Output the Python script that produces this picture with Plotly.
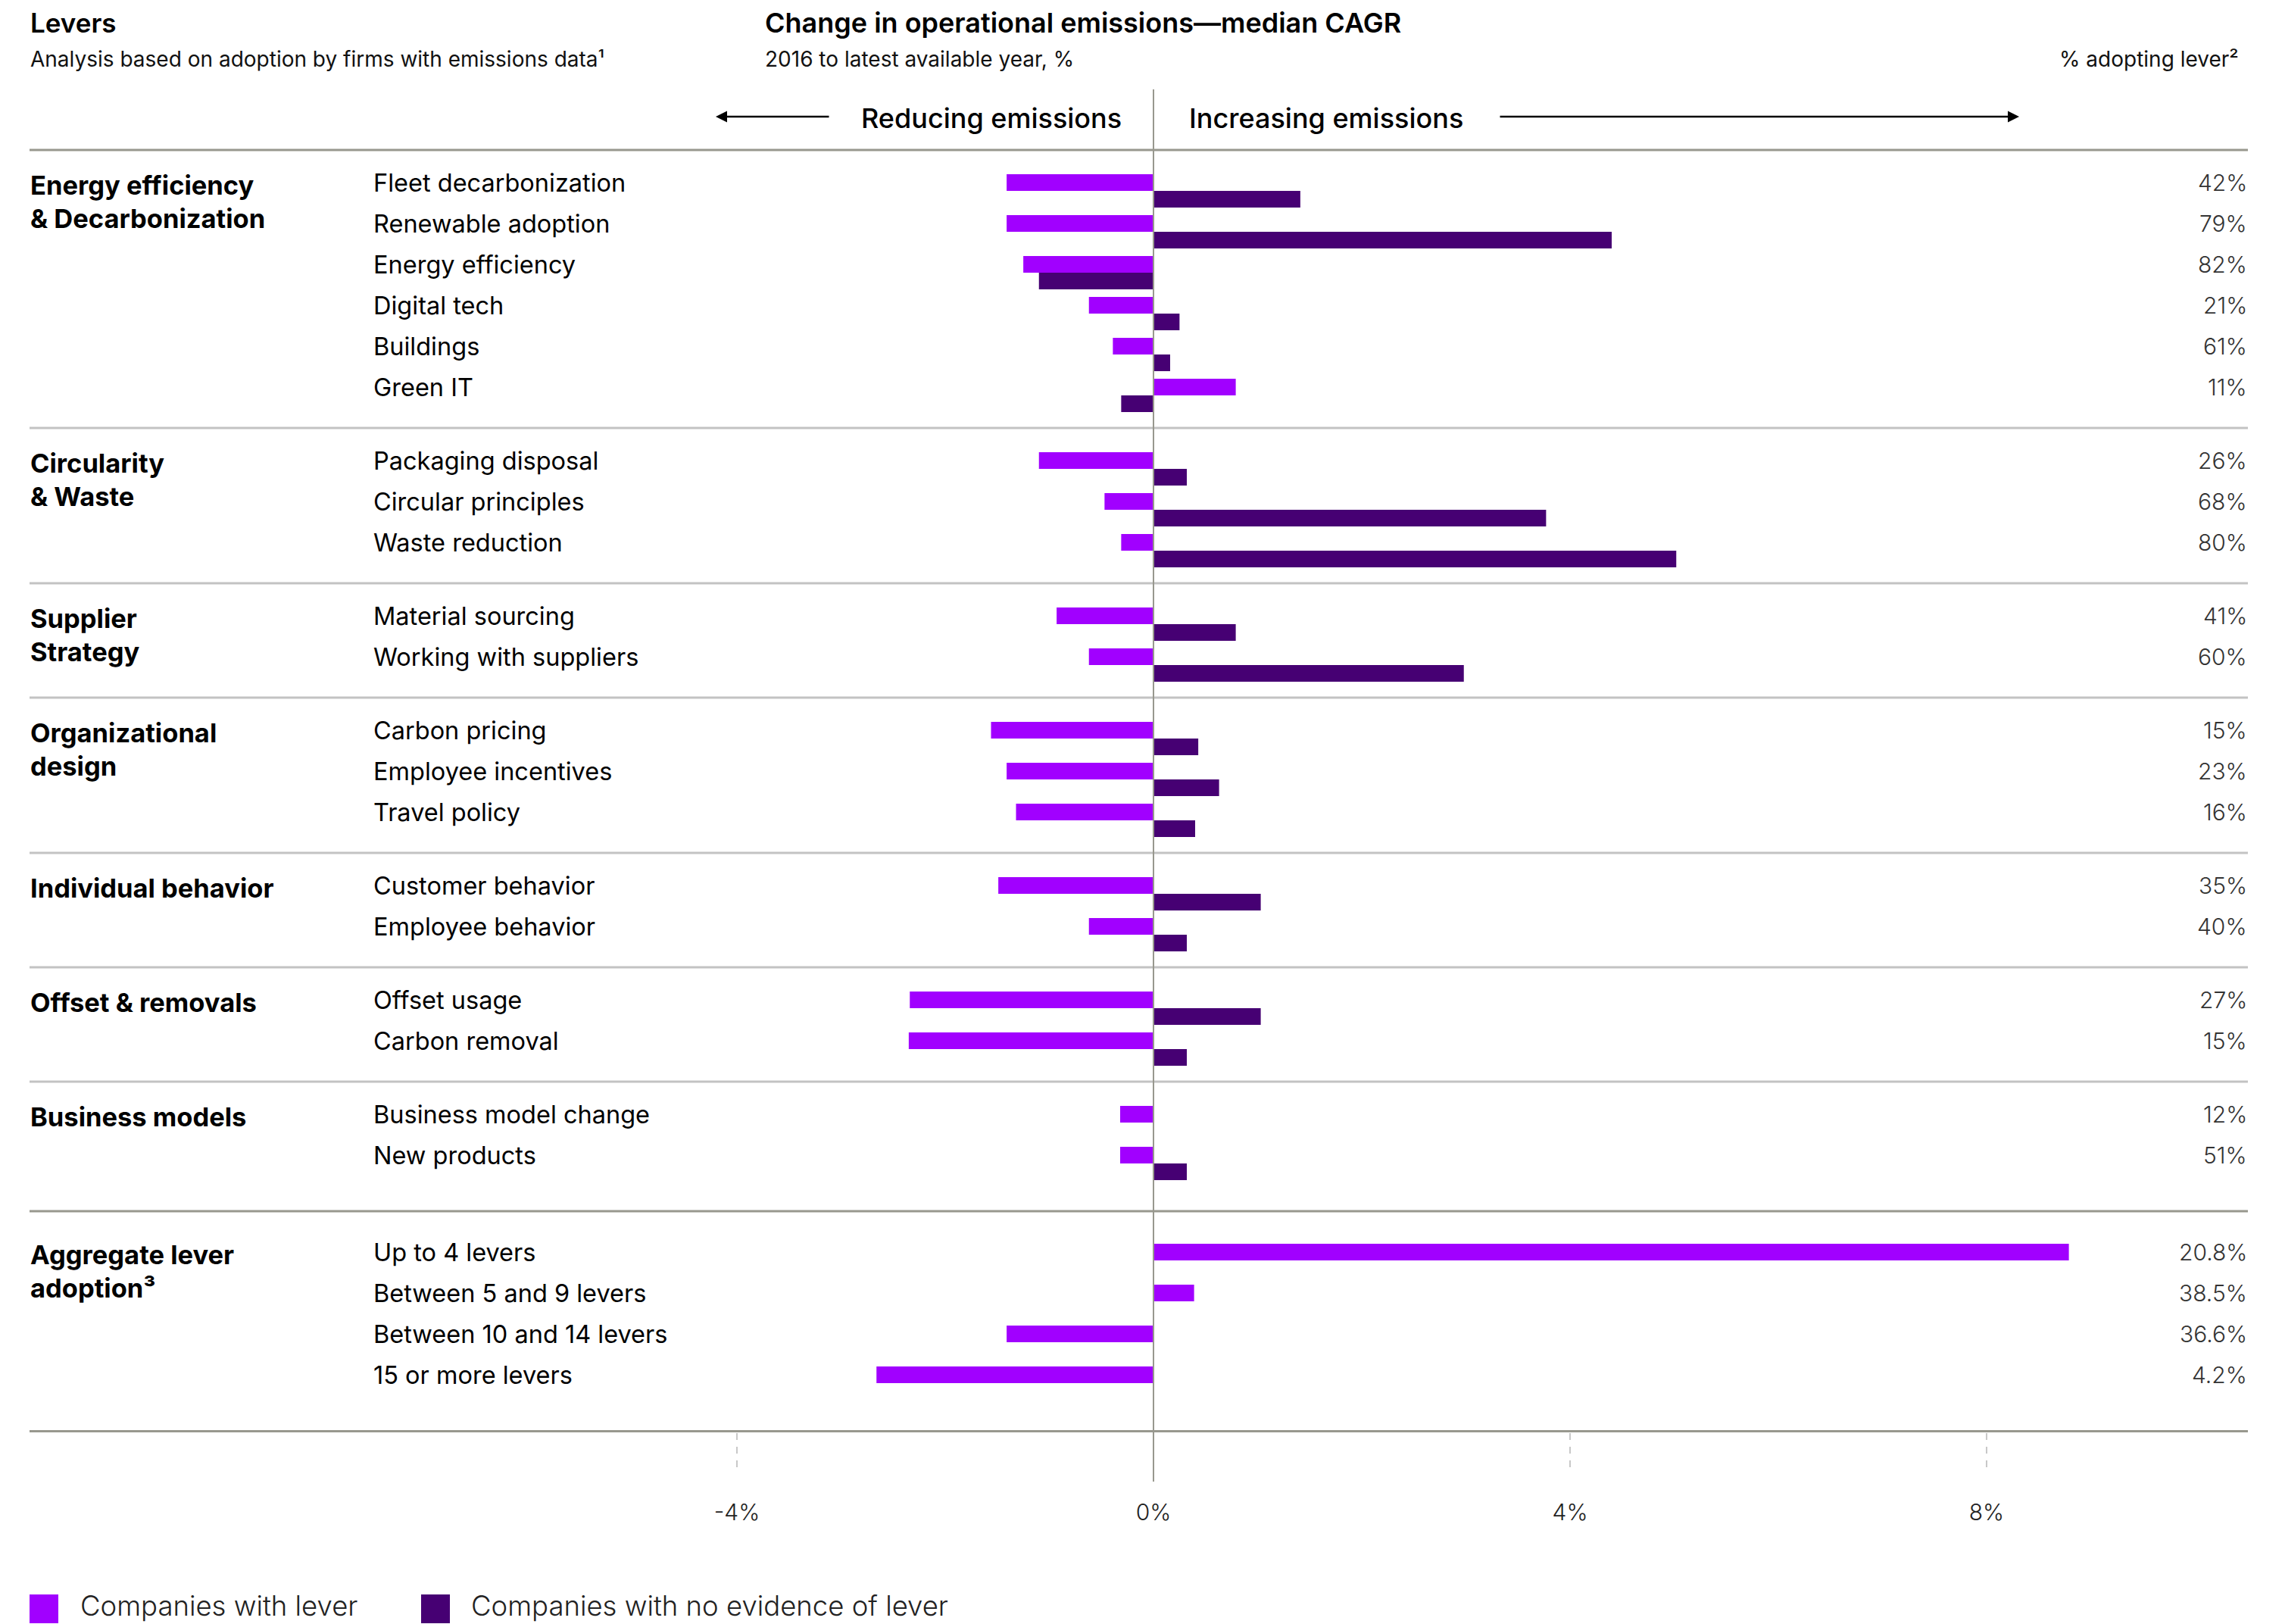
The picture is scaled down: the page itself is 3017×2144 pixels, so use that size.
import plotly.graph_objects as go

W, H = 3017, 2144

# ---------------- data ----------------
group_names = [
    ["Energy efficiency", "& Decarbonization"],
    ["Circularity", "& Waste"],
    ["Supplier", "Strategy"],
    ["Organizational", "design"],
    ["Individual behavior"],
    ["Offset & removals"],
    ["Business models"],
    ["Aggregate lever", "adoption³"],
]
levers = [
    ["Fleet decarbonization", "Renewable adoption", "Energy efficiency", "Digital tech", "Buildings", "Green IT"],
    ["Packaging disposal", "Circular principles", "Waste reduction"],
    ["Material sourcing", "Working with suppliers"],
    ["Carbon pricing", "Employee incentives", "Travel policy"],
    ["Customer behavior", "Employee behavior"],
    ["Offset usage", "Carbon removal"],
    ["Business model change", "New products"],
    ["Up to 4 levers", "Between 5 and 9 levers", "Between 10 and 14 levers", "15 or more levers"],
]
# median CAGR (%), companies with lever
with_lever = [
    [-1.41, -1.41, -1.25, -0.62, -0.39, 0.79],
    [-1.10, -0.47, -0.31],
    [-0.93, -0.62],
    [-1.56, -1.41, -1.32],
    [-1.49, -0.62],
    [-2.34, -2.35],
    [-0.32, -0.32],
    [8.79, 0.39, -1.41, -2.66],
]
# median CAGR (%), companies with no evidence of lever (None = no bar)
no_lever = [
    [1.41, 4.40, -1.10, 0.25, 0.16, -0.31],
    [0.32, 3.77, 5.02],
    [0.79, 2.98],
    [0.43, 0.63, 0.40],
    [1.03, 0.32],
    [1.03, 0.32],
    [None, 0.32],
    [None, None, None, None],
]
adopting = [
    ["42%", "79%", "82%", "21%", "61%", "11%"],
    ["26%", "68%", "80%"],
    ["41%", "60%"],
    ["15%", "23%", "16%"],
    ["35%", "40%"],
    ["27%", "15%"],
    ["12%", "51%"],
    ["20.8%", "38.5%", "36.6%", "4.2%"],
]
tick_vals = [-4, 0, 4, 8]
tick_text = ["-4%", "0%", "4%", "8%"]

PURPLE = "#A100FF"
DARK = "#460073"
RULE_DARK = "#98988e"
RULE_LIGHT = "#c3c3c3"
FONT = "Inter"

# ---------------- layout geometry (pixels) ----------------
ROW = 54
BAR_W = 22
HEADER_RULE = 198
AXIS_Y = 1889
ZERO_PX = 1523
PX_PER_PCT = 137.5
PLOT_L, PLOT_R = 39, 2968

def px(x):
    return x / W

x_range = [(PLOT_L - ZERO_PX) / PX_PER_PCT, (PLOT_R - ZERO_PX) / PX_PER_PCT]

fig = go.Figure()
annotations = []
shapes = []

# compute row centres
y = HEADER_RULE
sep_positions = []
purple_y, purple_x, dark_y, dark_x = [], [], [], []
n_groups = len(levers)
for gi in range(n_groups):
    is_agg = gi == n_groups - 1
    if gi > 0:
        sep_positions.append((y, is_agg))
    centre0 = y + ROW
    centres = [centre0 + k * ROW for k in range(len(levers[gi]))]
    label_ys = []
    for k, c in enumerate(centres):
        if is_agg:
            purple_y.append(c)
            purple_x.append(with_lever[gi][k])
            label_ys.append(c)
        else:
            purple_y.append(c - BAR_W / 2)
            purple_x.append(with_lever[gi][k])
            if no_lever[gi][k] is not None:
                dark_y.append(c + BAR_W / 2)
                dark_x.append(no_lever[gi][k])
            label_ys.append(c - BAR_W / 2)
    # labels
    for k, ly in enumerate(label_ys):
        annotations.append(dict(text=levers[gi][k], x=px(491), y=ly, xref="paper", yref="y",
                                xanchor="left", yanchor="middle", showarrow=False,
                                font=dict(family=FONT, size=32.5, color="#000000")))
        annotations.append(dict(text=adopting[gi][k], x=px(2969), y=ly, xref="paper", yref="y",
                                xanchor="right", yanchor="middle", showarrow=False,
                                font=dict(family=FONT, size=30, color="#333333", weight=300)))
    for li, line in enumerate(group_names[gi]):
        annotations.append(dict(text=line, x=px(38), y=label_ys[0] + 3 + li * 44, xref="paper", yref="y",
                                xanchor="left", yanchor="middle", showarrow=False,
                                font=dict(family=FONT, size=34.5, color="#000000", weight=700)))
    y = centres[-1] + 43
    if gi == n_groups - 2:
        y += 20

fig.add_trace(go.Bar(y=purple_y, x=purple_x, orientation="h", width=BAR_W,
                     marker=dict(color=PURPLE, line=dict(width=0)), name="Companies with lever",
                     showlegend=False))
fig.add_trace(go.Bar(y=dark_y, x=dark_x, orientation="h", width=BAR_W,
                     marker=dict(color=DARK, line=dict(width=0)),
                     name="Companies with no evidence of lever", showlegend=False))

# rules
shapes.append(dict(type="line", xref="paper", yref="y", x0=px(PLOT_L), x1=px(PLOT_R),
                   y0=HEADER_RULE, y1=HEADER_RULE, line=dict(color=RULE_DARK, width=3)))
for sy, dark in sep_positions:
    shapes.append(dict(type="line", xref="paper", yref="y", x0=px(PLOT_L), x1=px(PLOT_R),
                       y0=sy, y1=sy, line=dict(color=RULE_DARK if dark else RULE_LIGHT, width=3)))
# zero line
shapes.append(dict(type="line", xref="x", yref="y", x0=0, x1=0, y0=118, y1=1956,
                   line=dict(color=RULE_DARK, width=2), layer="above"))
# dashed tick marks
for tv in tick_vals:
    if tv != 0:
        shapes.append(dict(type="line", xref="x", yref="y", x0=tv, x1=tv, y0=1892, y1=1944,
                           line=dict(color="#c8c8c8", width=2, dash="dash")))

# header texts
def txt(t, x, yy, size, anchor="left", weight=None, color="#000000"):
    f = dict(family=FONT, size=size, color=color)
    if weight is not None:
        f["weight"] = weight
    annotations.append(dict(text=t, x=px(x), y=yy, xref="paper", yref="y", xanchor=anchor,
                            yanchor="middle", showarrow=False, font=f))

txt("Levers", 38, 30, 35, weight=600)
txt("Analysis based on adoption by firms with emissions data¹", 38, 78, 28, color="#111111")
txt("Change in operational emissions—median CAGR", 1008, 30, 36, weight=600)
txt("2016 to latest available year, %", 1008, 78, 28, color="#111111")
txt("% adopting lever²", 2958, 78, 28, anchor="right", color="#111111")
txt("Reducing emissions", 1483, 156, 36, anchor="right", weight=500)
txt("Increasing emissions", 1568, 156, 36, weight=500)

# arrows
annotations.append(dict(x=px(945), y=154, xref="paper", yref="y", ax=151, ay=0,
                        axref="pixel", ayref="pixel", text="", showarrow=True,
                        arrowhead=2, arrowsize=1.2, arrowwidth=2.5, arrowcolor="#000000"))
annotations.append(dict(x=px(2666), y=154, xref="paper", yref="y", ax=-687, ay=0,
                        axref="pixel", ayref="pixel", text="", showarrow=True,
                        arrowhead=2, arrowsize=1.2, arrowwidth=2.5, arrowcolor="#000000"))

# legend
legend_items = [("Companies with lever", PURPLE, 39, 104), ("Companies with no evidence of lever", DARK, 556, 620)]
for name, col, sx, tx in legend_items:
    shapes.append(dict(type="rect", xref="paper", yref="y", x0=px(sx), x1=px(sx + 38), y0=2105, y1=2143,
                       fillcolor=col, line=dict(width=0)))
    annotations.append(dict(text=name, x=px(tx), y=2120, xref="paper", yref="y", xanchor="left",
                            yanchor="middle", showarrow=False,
                            font=dict(family=FONT, size=36.5, color="#222222", weight=300)))

fig.update_layout(
    width=W, height=H,
    margin=dict(l=0, r=0, t=0, b=0),
    paper_bgcolor="white", plot_bgcolor="rgba(0,0,0,0)",
    barmode="overlay", showlegend=False,
    xaxis=dict(domain=[px(PLOT_L), px(PLOT_R)], range=x_range, anchor="free",
               position=(H - AXIS_Y) / H, showline=True, linecolor=RULE_DARK, linewidth=3,
               showgrid=False, zeroline=False, ticks="", tickvals=tick_vals, ticktext=tick_text,
               ticklabelstandoff=80, tickfont=dict(family=FONT, size=30, color="#222222", weight=300)),
    yaxis=dict(domain=[0, 1], range=[H, 0], visible=False, showgrid=False, zeroline=False),
    annotations=annotations, shapes=shapes,
)

fig.write_html("out.html")
